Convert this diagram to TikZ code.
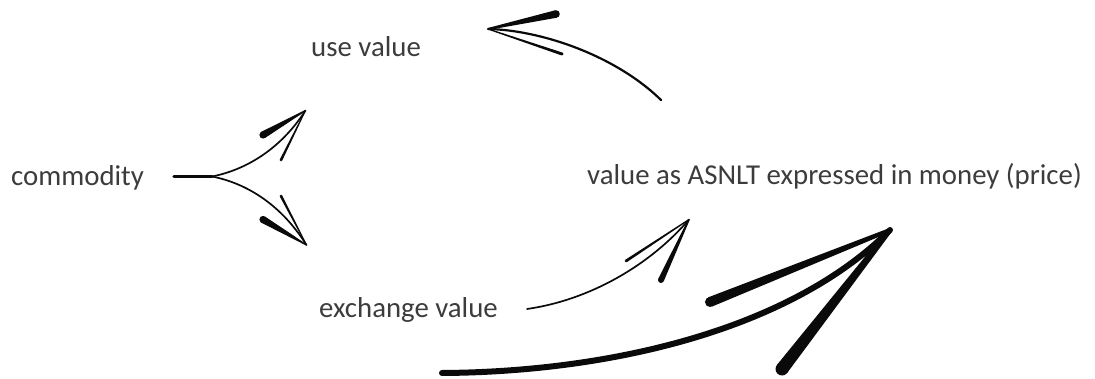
\documentclass[tikz,border=0pt]{standalone}
\usepackage{fontspec}
\setmainfont{Carlito}
\usetikzlibrary{calc}
\definecolor{txt}{HTML}{3C3C3C}
\definecolor{ink}{HTML}{0A0A0A}
% tapered stroke: wide round end at #1, narrow end at #2 (half width #4), half width #3
\newcommand\taperline[4]{%
  \fill[ink] ($(#1)!#3!90:(#2)$) -- ($(#2)!#4!-90:(#1)$) -- (#2)
     -- ($(#2)!#4!90:(#1)$) -- ($(#1)!#3!-90:(#2)$) -- cycle;
  \fill[ink] (#1) circle (#3);}
\begin{document}
\begin{tikzpicture}[x=1pt,y=-1pt,
  label/.style={font=\fontsize{28.8}{33}\selectfont, text=txt, inner sep=0pt, anchor=base west},
  stroke/.style={draw=ink, line cap=round}]
\useasboundingbox (0,0) rectangle (1095,379);

% labels
\node[label] (com)   at (11,186)  {commodity};
\node[label] (use)   at (311,57)  {use value};
\node[label] (price) at (587,185) {value as ASNLT expressed in money (price)};
\node[label] (exc)   at (319,318) {exchange value};

% end points of the sketched arrows
\coordinate (fork)  at (212,176.5);
\coordinate (stem)  at (174,176.5);
\coordinate (tipU)  at (305.5,110.5);
\coordinate (tipL)  at (306.5,245);
\coordinate (p2s)   at (661,100);
\coordinate (p2t)   at (488,29);
\coordinate (e2s)   at (527,309);
\coordinate (e2t)   at (689,219.5);
\coordinate (bigs)  at (442,373);
\coordinate (bigt)  at (890,230);

% commodity splits into use value and exchange value
\draw[stroke, line width=3.5] (stem) -- (fork);
\draw[stroke, line width=1.7] (fork) .. controls (245,170) and (280,150) .. (tipU);
\draw[stroke, line width=1.7] (fork) .. controls (245,183) and (280,203) .. (tipL);
\taperline{263,135}{tipU}{3.6pt}{0.6pt}
\taperline{281,160}{tipU}{1.3pt}{0.5pt}
\taperline{263,219.5}{tipL}{3.6pt}{0.6pt}
\taperline{281,196}{tipL}{1.3pt}{0.5pt}

% price back to use value
\draw[stroke, line width=2.2] (p2s) .. controls (615,55) and (540,30) .. (p2t);
\taperline{556,14}{p2t}{3.8pt}{1pt}
\taperline{562,54}{p2t}{1.5pt}{0.6pt}

% exchange value to price
\draw[stroke, line width=1.7] (e2s) .. controls (590,300) and (650,265) .. (e2t);
\taperline{626,261}{e2t}{1.4pt}{0.6pt}
\taperline{661,280}{e2t}{3pt}{0.8pt}

% heavy arrow to price
\draw[stroke, line width=6] (bigs) .. controls (610,372) and (790,330) .. (bigt);
\taperline{710,302}{bigt}{5pt}{2pt}
\taperline{782,369}{bigt}{6.5pt}{2.5pt}
\end{tikzpicture}
\end{document}
